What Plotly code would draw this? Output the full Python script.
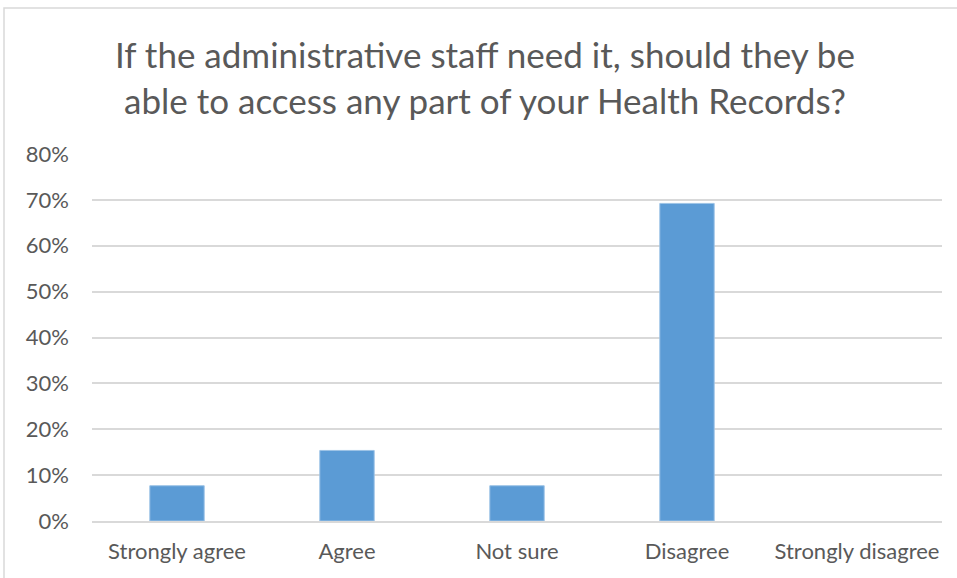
import plotly.graph_objects as go

categories = ["Strongly agree", "Agree", "Not sure", "Disagree", "Strongly disagree"]
shares = [0.0769, 0.1538, 0.0769, 0.6923, 0.0]
tick_values = [0, 0.1, 0.2, 0.3, 0.4, 0.5, 0.6, 0.7, 0.8]
tick_labels = ["0%", "10%", "20%", "30%", "40%", "50%", "60%", "70%", "80%"]
title_text = "If the administrative staff need it, should they be<br>able to access any part of your Health Records?"

W, H = 957, 578
L, R, T, B = 92, 15, 154, 57
pw, ph = W - L - R, H - T - B

TEXT = "#595959"
GRID = "#d9d9d9"
FONT = "Lato, 'Open Sans', sans-serif"

fig = go.Figure(
    go.Bar(
        x=categories,
        y=shares,
        marker=dict(
            color="#5b9bd5",
            line=dict(color="#9dc3e6", width=[1 if v > 0 else 0 for v in shares]),
        ),
        width=0.32,
    )
)

fig.update_layout(
    width=W,
    height=H,
    margin=dict(l=L, r=R, t=T, b=B),
    paper_bgcolor="white",
    plot_bgcolor="white",
    showlegend=False,
    font=dict(family=FONT, color=TEXT, size=22),
    xaxis=dict(
        showgrid=False,
        showline=True,
        linecolor=GRID,
        linewidth=1.5,
        ticks="",
        tickfont=dict(size=22, color=TEXT),
        ticklabelstandoff=10,
    ),
    yaxis=dict(
        range=[0, 0.8],
        tickvals=tick_values,
        ticktext=tick_labels,
        showgrid=True,
        gridcolor=GRID,
        gridwidth=1.5,
        zeroline=False,
        showline=False,
        ticks="",
        tickfont=dict(size=22, color=TEXT),
        ticklabelstandoff=22,
    ),
    annotations=[
        dict(
            text=title_text,
            xref="paper",
            yref="paper",
            x=(485 - L) / pw,
            y=1 + (T - 77) / ph,
            xanchor="center",
            yanchor="middle",
            showarrow=False,
            font=dict(size=35, color=TEXT, family=FONT),
        )
    ],
    shapes=[
        dict(
            type="rect",
            xref="paper",
            yref="paper",
            x0=(4 - L) / pw,
            x1=(962 - L) / pw,
            y0=-(582 - (H - B)) / ph,
            y1=1 + (T - 8) / ph,
            line=dict(color=GRID, width=1.5),
            layer="below",
        )
    ],
)

fig.write_html("out.html")
